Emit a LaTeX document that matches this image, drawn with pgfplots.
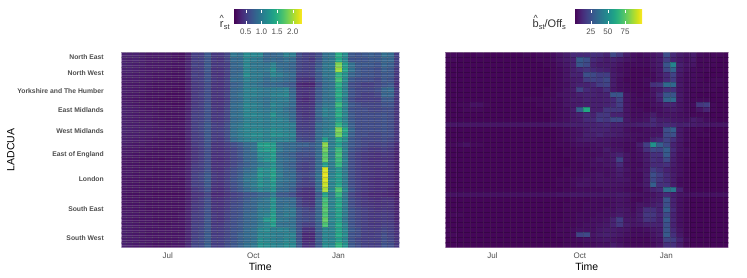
\documentclass[border=0pt]{standalone}
\usepackage{pgfplots}
\usepackage{pgfplotstable}
\usepackage{fontspec}
\setmainfont{Liberation Sans}
\pgfplotsset{compat=1.18}
\definecolor{tk}{HTML}{4D4D4D}
\pgfplotstableread{
r c0 c1 c2 c3 c4 c5 c6 c7 c8 c9 c10 c11 c12 c13 c14 c15 c16 c17 c18 c19 c20 c21 c22 c23 c24 c25 c26 c27 c28 c29 c30 c31 c32 c33 c34 c35 c36 c37 c38 c39 c40 c41 c42
0 .3 .3 .3 .28 .25 .25 .25 .25 .22 .2 .3 .5 .5 .7 .45 .45 .55 .95 .9 1.15 1.1 1.1 .8 .8 .85 1.05 1.0 .6 .5 .5 .6 .9 .95 1.45 1.15 .7 .65 .7 .75 .7 .9 .85 .5
1 .3 .28 .3 .28 .25 .25 .25 .24 .22 .2 .3 .5 .52 .68 .45 .42 .55 .85 .85 1.1 1.0 .95 .8 .85 .8 .9 .85 .55 .5 .45 .65 .9 .95 1.4 1.1 .65 .65 .65 .7 .7 .8 .8 .5
2 .32 .3 .28 .28 .25 .25 .24 .24 .22 .22 .32 .52 .5 .7 .45 .45 .5 .8 .85 1.1 .95 .95 .9 1.05 .85 .85 .8 .55 .5 .5 .7 .95 1.0 1.85 1.3 .9 .7 .7 .7 .65 .8 .75 .5
3 .3 .3 .28 .26 .25 .24 .24 .22 .2 .2 .3 .48 .5 .68 .42 .42 .52 .8 .8 1.1 1.0 .95 .95 1.15 .9 .85 .8 .55 .5 .5 .75 .95 1.0 1.95 1.35 .9 .7 .65 .65 .6 .75 .7 .45
4 .28 .28 .26 .26 .24 .22 .22 .22 .2 .2 .3 .5 .48 .65 .42 .4 .5 .8 .85 1.15 1.0 1.0 .9 1.1 1.0 .9 .85 .5 .48 .5 .7 .95 .95 1.5 1.2 .8 .7 .65 .65 .6 .7 .7 .45
5 .28 .26 .26 .25 .24 .22 .22 .2 .2 .2 .28 .48 .5 .65 .45 .42 .52 .85 .85 1.05 1.0 .95 .85 .95 .9 .85 .8 .45 .42 .42 .7 .9 .95 1.6 1.15 .7 .6 .6 .6 .55 .7 .65 .42
6 .26 .25 .24 .24 .22 .2 .2 .2 .2 .18 .28 .45 .48 .6 .42 .4 .5 .75 .8 1.0 .95 .9 .8 .85 .8 .75 .7 .35 .32 .32 .6 .85 .9 1.45 1.05 .6 .55 .5 .5 .55 .65 .7 .38
7 .28 .26 .24 .24 .22 .2 .2 .2 .18 .18 .28 .45 .48 .62 .42 .42 .5 .8 .85 1.05 1.05 1.0 .95 1.0 1.0 1.05 .8 .42 .4 .42 .7 .9 .95 1.4 1.05 .65 .55 .55 .55 .6 .8 .85 .45
8 .26 .24 .24 .22 .2 .2 .2 .18 .18 .18 .25 .45 .5 .62 .42 .42 .52 .82 .9 1.05 1.05 1.0 .95 1.05 1.05 1.1 .85 .42 .38 .42 .7 .9 .95 1.45 1.1 .65 .55 .5 .5 .55 .8 .8 .45
9 .26 .24 .22 .22 .2 .2 .18 .18 .18 .18 .25 .45 .48 .62 .42 .4 .5 .8 .85 1.05 1.0 .95 .9 1.0 1.0 1.0 .85 .4 .35 .4 .7 .9 .9 1.35 1.0 .6 .5 .5 .5 .5 .7 .7 .42
10 .28 .26 .24 .22 .22 .2 .2 .2 .18 .18 .28 .45 .5 .65 .42 .42 .52 .85 .9 1.1 1.05 1.0 .9 1.1 1.0 .95 .85 .42 .4 .42 .75 .95 .95 1.55 1.1 .7 .6 .55 .55 .55 .65 .65 .42
11 .3 .28 .26 .24 .22 .22 .2 .2 .2 .2 .28 .48 .5 .65 .45 .42 .55 .85 .9 1.1 1.05 1.0 .95 1.05 1.0 .9 .8 .45 .42 .45 .8 1.05 1.0 1.4 1.05 .65 .6 .6 .55 .55 .6 .6 .42
12 .3 .28 .26 .24 .24 .22 .2 .2 .2 .2 .3 .5 .52 .65 .45 .45 .55 .88 .92 1.1 1.1 1.05 1.0 1.2 1.0 .95 .85 .48 .42 .45 .8 1.05 1.0 1.45 1.1 .7 .6 .6 .6 .6 .65 .6 .42
13 .3 .28 .26 .25 .24 .22 .22 .2 .2 .2 .3 .5 .52 .65 .45 .45 .55 .85 .9 1.05 1.05 1.05 1.0 1.1 1.05 1.0 .85 .5 .45 .48 .75 .95 1.0 1.3 1.05 .7 .6 .6 .6 .6 .65 .6 .42
14 .3 .28 .28 .26 .26 .24 .22 .22 .22 .22 .32 .5 .55 .7 .5 .48 .6 .9 .95 1.1 1.05 1.05 1.0 1.1 1.05 1.05 1.0 .5 .48 .5 .85 .95 1.0 1.5 1.15 .75 .6 .6 .6 .6 .65 .6 .42
15 .32 .3 .28 .28 .26 .24 .24 .22 .22 .22 .32 .5 .55 .7 .5 .5 .6 .9 1.0 1.1 1.1 1.1 1.05 1.15 1.1 1.05 1.0 .52 .5 .5 .85 1.0 1.05 1.85 1.4 .8 .6 .6 .6 .6 .65 .6 .42
16 .3 .28 .28 .26 .25 .24 .22 .22 .22 .2 .32 .48 .52 .7 .48 .48 .6 .9 1.0 1.1 1.15 1.15 1.05 1.2 1.15 1.1 1.05 .55 .52 .52 .85 1.0 1.05 1.8 1.3 .75 .6 .6 .55 .55 .62 .6 .42
17 .3 .28 .26 .26 .24 .22 .22 .2 .2 .2 .3 .48 .5 .68 .48 .45 .58 .85 .95 1.05 1.1 1.1 1.05 1.1 1.05 1.05 1.0 .6 .55 .55 .85 1.3 1.0 1.4 1.15 .7 .6 .55 .55 .55 .6 .55 .42
18 .28 .26 .24 .24 .22 .22 .2 .2 .2 .2 .28 .45 .5 .65 .42 .42 .5 .6 .7 .85 .9 1.3 1.35 1.3 .9 .85 .85 .75 .75 .7 .85 1.9 1.0 1.3 1.0 .7 .6 .55 .5 .5 .55 .5 .35
19 .26 .24 .24 .22 .22 .2 .2 .2 .2 .2 .28 .42 .48 .62 .42 .4 .48 .55 .65 .8 .9 1.25 1.3 1.35 .95 .85 .85 .7 .65 .65 .85 1.8 1.05 1.55 1.05 .65 .55 .5 .45 .45 .5 .45 .32
20 .25 .24 .22 .22 .2 .2 .2 .2 .2 .2 .28 .42 .48 .62 .4 .4 .45 .55 .65 .8 .85 1.15 1.15 1.3 .85 .8 .75 .6 .6 .6 .85 1.7 1.0 1.6 1.0 .6 .5 .45 .42 .4 .45 .42 .3
21 .24 .22 .22 .2 .2 .2 .18 .2 .2 .2 .28 .42 .48 .62 .4 .38 .45 .55 .62 .8 .85 1.1 1.2 1.3 .9 .85 .8 .6 .55 .55 .85 1.75 1.05 1.55 1.05 .6 .5 .45 .4 .4 .42 .4 .3
22 .24 .22 .22 .2 .2 .2 .2 .2 .2 .2 .28 .45 .5 .62 .4 .4 .45 .55 .65 .75 .85 1.0 1.05 1.2 .9 .8 .75 .55 .5 .55 .85 1.3 1.0 1.5 1.0 .6 .5 .45 .42 .42 .45 .4 .3
23 .24 .24 .22 .22 .22 .2 .2 .2 .22 .22 .3 .48 .5 .65 .42 .4 .5 .6 .7 .85 .9 1.2 1.15 1.3 .95 .85 .8 .55 .5 .55 .85 2.15 1.0 1.25 .95 .6 .5 .45 .42 .4 .42 .4 .3
24 .24 .24 .22 .22 .22 .2 .2 .2 .22 .22 .3 .5 .55 .7 .45 .42 .5 .62 .72 .9 .95 1.25 1.15 1.35 1.0 .85 .85 .6 .55 .6 .9 2.2 1.05 1.3 1.0 .6 .5 .45 .42 .4 .42 .38 .3
25 .24 .22 .22 .22 .2 .2 .2 .2 .22 .2 .3 .5 .55 .72 .45 .42 .52 .65 .75 .95 1.0 1.2 1.1 1.3 .95 .9 .85 .6 .5 .55 .9 2.15 1.1 1.3 1.0 .6 .5 .45 .4 .38 .4 .38 .3
26 .24 .22 .22 .2 .2 .2 .2 .2 .2 .2 .3 .5 .52 .7 .42 .4 .5 .62 .72 .9 1.0 1.2 1.1 1.25 .9 .85 .8 .55 .5 .5 .85 2.1 1.05 1.35 1.0 .6 .5 .45 .4 .38 .4 .38 .28
27 .24 .22 .22 .22 .2 .2 .2 .2 .2 .2 .28 .45 .5 .65 .4 .38 .48 .6 .7 .85 .95 1.1 1.05 1.2 .85 .85 .75 .5 .42 .42 .85 2.0 1.1 1.65 1.1 .65 .5 .45 .4 .38 .4 .35 .28
28 .22 .2 .2 .2 .2 .18 .18 .18 .18 .18 .25 .4 .42 .55 .35 .35 .42 .5 .55 .65 .7 .8 .8 1.0 .7 .7 .62 .42 .38 .38 .7 1.35 .95 1.5 .95 .55 .45 .4 .35 .35 .35 .32 .25
29 .24 .22 .22 .2 .2 .2 .2 .2 .2 .2 .28 .42 .48 .62 .4 .4 .48 .55 .6 .72 .8 .9 .95 1.2 .85 .85 .85 .55 .42 .4 .8 1.6 1.05 1.35 1.0 .6 .5 .45 .4 .38 .42 .4 .3
30 .24 .22 .22 .22 .2 .2 .2 .2 .2 .2 .28 .45 .48 .62 .42 .4 .48 .58 .62 .75 .8 .95 .95 1.2 .85 .9 .85 .55 .45 .42 .8 1.65 1.05 1.4 1.0 .6 .5 .45 .42 .4 .42 .42 .3
31 .24 .24 .22 .22 .2 .2 .2 .2 .2 .2 .3 .45 .5 .65 .42 .42 .5 .6 .65 .78 .8 1.0 1.0 1.25 .9 .95 .95 .65 .55 .5 .8 1.7 1.1 1.35 1.0 .65 .55 .5 .45 .42 .45 .42 .32
32 .26 .24 .24 .22 .22 .2 .2 .2 .2 .22 .3 .48 .5 .65 .45 .42 .52 .6 .65 .8 .85 1.0 1.05 1.3 .9 1.0 .95 .65 .55 .55 .8 1.65 1.05 1.35 1.0 .65 .55 .5 .45 .45 .48 .45 .32
33 .26 .24 .22 .22 .22 .2 .2 .2 .2 .22 .3 .48 .5 .68 .45 .42 .52 .62 .68 .8 .85 1.0 1.25 1.35 .95 .95 .9 .65 .58 .55 .8 1.75 1.1 1.3 .95 .65 .55 .5 .45 .45 .48 .45 .32
34 .26 .26 .24 .22 .22 .22 .2 .2 .22 .22 .3 .5 .52 .68 .45 .45 .55 .62 .7 .8 .85 1.0 1.1 1.3 .9 .9 .9 .62 .5 .5 .75 1.65 1.05 1.4 1.05 .65 .55 .5 .45 .45 .5 .48 .35
35 .28 .26 .24 .24 .22 .22 .22 .22 .22 .22 .32 .5 .55 .7 .48 .48 .55 .65 .7 .85 .9 1.1 1.15 1.05 1.05 1.05 .95 .65 .4 .4 .75 1.1 1.05 1.35 1.1 .7 .6 .5 .48 .48 .55 .5 .38
36 .28 .26 .24 .24 .22 .22 .22 .22 .22 .22 .32 .5 .55 .72 .48 .48 .55 .65 .75 .85 .9 1.1 1.1 1.05 1.0 1.05 1.05 .62 .35 .35 .7 1.1 1.05 1.4 1.15 .65 .6 .5 .48 .5 .6 .52 .4
37 .28 .26 .26 .24 .24 .22 .22 .22 .22 .24 .32 .52 .58 .72 .5 .5 .58 .65 .75 .85 .9 1.15 1.1 1.05 1.0 1.1 1.05 .65 .35 .35 .72 1.1 1.05 1.3 1.1 .65 .55 .5 .5 .5 .62 .55 .42
38 .3 .28 .26 .26 .24 .22 .22 .22 .24 .24 .35 .55 .58 .75 .5 .5 .6 .68 .78 .9 .95 1.2 1.15 1.1 1.05 1.15 1.1 .7 .4 .42 .7 1.15 1.1 1.5 1.2 .7 .6 .52 .5 .5 .65 .6 .45
}\dataR
\pgfplotstableread{
r c0 c1 c2 c3 c4 c5 c6 c7 c8 c9 c10 c11 c12 c13 c14 c15 c16 c17 c18 c19 c20 c21 c22 c23 c24 c25 c26 c27 c28 c29 c30 c31 c32 c33 c34 c35 c36 c37 c38 c39 c40 c41 c42
0 3 3 3 2 2 3 2 2 2 2 2 2 3 2 3 3 4 6 8 12 12 12 14 13 10 22 16 8 5 4 5 6 8 24 12 8 6 8 4 3 3 3 2
1 3 3 2 2 2 2 2 2 2 2 2 2 2 2 3 3 4 6 8 10 28 24 12 10 8 10 8 6 5 4 4 6 8 18 10 7 5 7 3 3 3 2 2
2 2 2 2 2 2 2 2 2 2 2 2 2 2 2 2 3 3 5 7 10 26 22 10 8 8 8 6 4 4 4 4 6 8 26 45 9 6 6 3 3 3 2 2
3 2 2 2 2 2 2 2 2 2 2 2 2 2 2 2 2 3 4 6 9 12 15 12 10 9 7 5 4 3 3 3 5 7 22 32 8 5 4 3 3 2 2 2
4 2 2 2 2 2 2 2 2 2 2 2 2 2 2 2 2 3 4 6 10 10 24 22 18 18 8 6 4 3 3 3 4 7 12 20 7 4 4 3 2 2 2 2
5 2 2 2 2 2 2 2 2 2 2 2 2 2 2 2 2 3 4 6 8 9 18 20 18 22 8 5 3 3 3 4 4 6 12 18 6 4 4 3 2 3 3 2
6 2 2 2 2 2 2 2 2 2 2 2 2 2 2 2 2 3 4 5 8 10 10 12 18 20 8 5 4 3 3 4 14 16 34 34 7 4 4 3 3 3 3 2
7 2 2 2 2 2 2 2 2 2 2 2 2 2 2 2 3 3 4 6 8 20 12 10 9 14 7 5 4 3 3 3 6 8 14 14 6 4 3 3 3 3 2 2
8 2 2 2 2 2 2 2 2 2 2 2 2 2 2 2 3 3 5 6 7 9 10 10 9 10 26 26 6 4 3 4 6 12 26 26 7 4 3 2 2 2 2 2
9 2 2 2 2 2 2 2 2 2 2 2 2 3 3 3 3 4 4 6 8 8 10 9 9 10 12 20 6 4 4 4 5 10 32 34 7 4 3 3 3 2 2 2
10 2 2 3 3 5 5 3 2 2 2 2 2 2 2 3 3 3 4 6 7 8 9 9 9 10 12 18 6 4 3 3 5 6 10 10 6 4 4 16 18 3 2 2
11 2 2 2 3 3 3 2 2 2 2 2 2 2 2 2 3 3 4 5 8 30 60 9 9 16 16 16 6 4 4 3 4 5 7 8 6 4 3 6 10 3 2 2
12 2 2 2 2 2 2 2 2 2 2 2 2 2 2 2 2 3 4 5 7 9 12 10 16 16 10 10 6 4 4 5 8 5 6 6 5 4 3 3 3 2 2 2
13 2 2 2 2 2 2 2 2 2 2 2 2 2 2 2 2 3 4 5 7 8 12 12 18 16 22 22 7 5 5 6 12 8 8 7 6 5 8 6 4 3 2 2
14 6 6 6 6 6 6 6 6 6 6 6 6 6 6 6 6 7 7 8 9 9 10 10 11 12 10 10 8 8 9 10 12 10 12 11 9 9 8 7 7 6 6 6
15 2 2 2 2 2 2 2 2 2 2 2 2 2 2 2 2 2 3 4 5 6 8 10 10 10 8 8 5 4 4 5 6 6 24 30 7 4 3 3 2 2 2 2
16 2 2 2 2 2 2 2 2 2 2 2 2 2 2 2 2 2 3 4 5 6 9 9 11 9 9 8 6 5 5 5 6 7 22 24 7 4 3 3 3 2 2 2
17 2 2 2 2 2 2 2 2 2 2 2 2 2 2 2 2 2 3 4 5 7 8 8 7 7 6 6 5 5 4 5 10 12 20 14 7 4 3 2 2 2 2 2
18 3 3 4 5 3 3 2 2 2 2 2 2 2 2 2 2 2 3 3 4 5 5 5 6 6 5 5 4 4 8 18 50 30 22 10 6 3 3 2 2 2 2 2
19 2 2 2 2 2 2 2 2 2 2 2 2 2 2 2 2 2 2 3 3 4 4 5 5 8 6 6 4 4 6 14 22 20 30 12 6 4 3 2 2 2 2 2
20 2 2 2 2 2 2 2 2 2 2 2 2 2 2 2 2 2 2 3 3 4 4 4 5 6 8 10 6 4 5 8 14 14 28 10 5 4 3 2 2 2 2 2
21 2 2 2 2 2 2 2 2 2 2 2 2 2 2 2 2 2 2 2 3 4 4 5 7 6 8 20 6 4 5 8 14 12 22 9 5 3 3 2 2 2 2 2
22 2 2 2 2 2 2 2 2 2 2 2 2 2 2 2 2 2 2 2 3 3 4 5 5 6 7 12 5 4 4 7 12 12 14 8 5 3 2 2 2 2 2 2
23 2 2 2 2 2 2 2 2 2 2 2 2 2 2 2 2 2 2 3 3 3 4 4 5 5 6 9 6 4 5 7 18 14 10 7 5 3 2 2 2 2 2 2
24 2 2 2 2 2 2 2 2 2 2 2 2 2 2 2 2 2 2 3 3 4 5 5 6 5 6 8 5 4 4 8 24 18 12 8 5 3 2 2 2 2 2 2
25 2 2 2 2 2 2 2 2 2 2 2 2 2 2 2 2 2 3 3 4 5 6 5 6 6 6 7 6 4 4 8 22 16 12 8 4 3 2 2 2 2 2 2
26 2 2 2 2 2 2 2 2 2 2 2 2 2 2 2 2 2 3 3 4 6 6 5 6 6 6 6 5 4 5 8 30 14 14 8 4 3 2 2 2 2 2 2
27 2 2 2 2 2 2 2 2 2 2 2 2 2 2 2 2 2 2 3 3 4 4 4 4 5 5 5 4 3 3 6 10 12 36 40 10 3 2 2 2 2 2 2
28 5 5 5 5 5 5 5 5 5 5 5 5 5 5 5 5 5 6 6 7 7 7 7 7 7 7 8 7 5 5 5 6 8 12 9 6 5 5 5 5 5 5 5
29 2 2 2 2 2 2 2 2 2 2 2 2 2 2 2 2 2 2 2 3 3 3 4 4 4 5 6 5 3 3 5 7 8 26 10 5 3 2 2 2 2 2 2
30 2 2 2 2 2 2 2 2 2 2 2 2 2 2 2 2 2 2 3 3 3 4 4 4 4 5 6 5 4 6 6 8 10 24 10 5 3 2 2 2 2 2 2
31 2 2 2 2 2 2 2 2 2 2 2 2 2 2 2 2 2 2 3 3 3 4 4 4 5 5 7 6 4 7 14 14 10 30 12 5 3 2 2 2 2 2 2
32 2 3 3 2 2 2 2 2 2 2 2 2 2 2 2 2 2 2 3 3 4 4 4 5 5 6 8 6 5 8 16 16 11 22 10 5 3 2 2 2 2 2 2
33 2 2 2 2 2 2 2 2 2 2 2 2 2 2 2 2 2 2 3 3 4 4 5 5 6 10 18 7 6 8 15 14 10 28 11 5 3 2 2 2 2 2 2
34 2 2 2 2 2 2 2 2 2 2 2 2 2 2 2 2 2 3 3 3 4 5 5 6 7 10 16 8 6 7 9 10 10 24 10 5 3 2 2 2 2 2 2
35 3 2 2 2 2 2 2 2 2 2 2 2 2 2 2 2 2 3 3 4 5 5 5 7 8 8 7 6 4 4 5 7 8 26 12 6 3 2 2 2 2 2 2
36 3 3 2 2 2 2 2 2 2 2 2 2 2 2 2 2 2 3 3 4 20 22 6 8 9 8 7 5 4 4 4 6 8 28 14 7 3 2 2 2 2 2 2
37 2 2 2 2 2 2 2 2 2 2 2 2 2 2 2 2 2 2 3 3 4 5 5 6 7 6 5 4 3 3 3 5 6 20 18 10 4 2 2 2 2 2 2
38 2 2 2 2 2 2 2 2 2 2 2 2 2 2 2 2 2 2 3 3 3 4 4 5 5 8 6 4 3 3 3 4 6 14 14 8 3 2 2 2 2 2 2
}\dataB
\pgfplotsset{
 heat/.style={
  scale only axis, y dir=reverse,
  xmin=0, xmax=42.5, ymin=0, ymax=39,
  height=195pt, clip marker paths=true,
  colormap/viridis,
  axis on top, axis line style={white,opacity=.3},
  xtick={7.1,20.2,33.2}, xticklabels={Jul,Oct,Jan},
  tick style={draw=none},
  ticklabel style={font=\fontsize{8}{9}\selectfont, text=tk},
  xtick pos=bottom, xticklabel shift=2pt,
  minor xtick={-0.3,0.7,...,42.7},
  minor ytick={0,0.5,...,39},
  minor x grid style={white,opacity=.07,line width=.4pt},
  minor y grid style={white,opacity=.16,line width=.4pt},
  grid=minor,
  xlabel={Time}, xlabel style={font=\fontsize{10.5}{11}\selectfont, yshift=3pt},
 },
 cb/.style={
  colorbar horizontal,
  colorbar style={
    at={(#1)}, anchor=south west,
    width=68pt, height=14pt, scale only axis,
    axis line style={draw=none},
    xticklabel pos=lower,
    xtick style={draw=white,line width=.4pt},
    major tick length=3pt,
    tick align=inside,
    ticklabel style={font=\fontsize{8}{9}\selectfont, text=tk},
    xticklabel shift=2pt,
  },
 },
 cell/.style={scatter, only marks, mark=square*, mark size=1pt,
   mark options={xscale=3.4,yscale=2.55,line width=.1pt},
   point meta=explicit},
}
\begin{document}
\begin{tikzpicture}[x=1pt,y=1pt]
\path[use as bounding box] (0,0) rectangle (747,278);
\begin{axis}[heat, at={(121.3pt,30.5pt)}, anchor=south west, width=278pt,
  point meta min=0.12, point meta max=2.29,
  ytick={0.86,4.06,7.74,11.46,15.74,20.4,25.4,31.34,37.06},
  yticklabels={North East,North West,Yorkshire and The Humber,East Midlands,West Midlands,East of England,London,South East,South West},
  yticklabel style={font=\fontsize{6.8}{7}\selectfont\bfseries, text=tk, xshift=-14pt},
  ylabel={LADCUA}, ylabel style={font=\fontsize{10.5}{11}\selectfont, yshift=-4pt},
  cb={0.405,1.148},
  colorbar style={xtick={0.5,1,1.5,2}, xticklabels={0.5,1.0,1.5,2.0}},
]
\pgfplotsinvokeforeach{0,...,42}{
 \addplot[cell] table[x expr=#1+0.2, y expr=\thisrow{r}+0.5, meta=c#1]{\dataR};
}
\end{axis}
\node[anchor=base west,font=\fontsize{11}{12}\selectfont,text=black!80,inner sep=0pt] at (219.5,250) {\shortstack[c]{\fontsize{9}{9}\selectfont\^{}\\[-2pt]r}\raisebox{-2pt}{\fontsize{7.5}{8}\selectfont st}};
\begin{axis}[heat, at={(445.3pt,30.5pt)}, anchor=south west, width=283pt,
  point meta min=0.7, point meta max=99.7,
  ytick=\empty, 
  cb={0.455,1.148},
  colorbar style={xtick={25,50,75}, xticklabels={25,50,75}},
]
\pgfplotsinvokeforeach{0,...,42}{
 \addplot[cell] table[x expr=#1+0.2, y expr=\thisrow{r}+0.5, meta=c#1]{\dataB};
}
\end{axis}
\node[anchor=base west,font=\fontsize{11}{12}\selectfont,text=black!80,inner sep=0pt] at (532.5,250) {\shortstack[c]{\fontsize{9}{9}\selectfont\^{}\\[-4pt]b}\raisebox{-2pt}{\fontsize{7.5}{8}\selectfont st}/Off\raisebox{-2pt}{\fontsize{7.5}{8}\selectfont s}};
\end{tikzpicture}
\end{document}
